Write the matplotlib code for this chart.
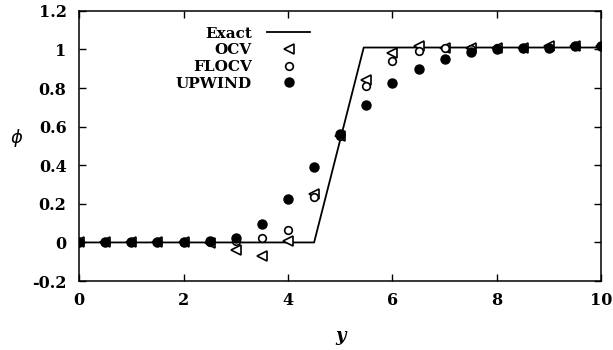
import numpy as np
from matplotlib import pyplot as plt

y_pts = np.arange(0, 10.01, 0.5)

ocv = [0, 0, 0, 0, 0, -0.005, -0.04, -0.07, 0.005, 0.25, 0.55, 0.84,
       0.98, 1.02, 1.01, 1.01, 1.01, 1.01, 1.02, 1.02, 1.02]
flocv = [0, 0, 0, 0, 0, 0, 0.01, 0.025, 0.062, 0.235, 0.55, 0.81,
         0.94, 0.99, 1.01, 1.0, 1.01, 1.01, 1.01, 1.02, 1.02]
upwind = [0, 0, 0, 0, 0, 0.01, 0.025, 0.098, 0.227, 0.39, 0.56, 0.71,
          0.825, 0.9, 0.95, 0.985, 1.0, 1.01, 1.01, 1.02, 1.02]

exact_y = [0, 4.5, 5.45, 10]
exact_phi = [0, 0, 1.01, 1.01]

xticks = [0, 2, 4, 6, 8, 10]
yticks = [-0.2, 0, 0.2, 0.4, 0.6, 0.8, 1, 1.2]
ytick_labels = ["-0.2", "0", "0.2", "0.4", "0.6", "0.8", "1", "1.2"]

plt.rcParams['font.family'] = ['DejaVu Serif']

fig = plt.figure(figsize=(6.13, 3.5), dpi=100)
ax = fig.add_axes([0.129, 0.197, 0.852, 0.772])

ax.plot(exact_y, exact_phi, color="black", linewidth=1.3, label="Exact")
ax.plot(y_pts, ocv, linestyle="none", marker="<", markersize=7,
        markerfacecolor="white", markeredgecolor="black", markeredgewidth=1.2,
        label="OCV")
ax.plot(y_pts, flocv, linestyle="none", marker="o", markersize=5.5,
        markerfacecolor="white", markeredgecolor="black", markeredgewidth=1.2,
        label="FLOCV")
ax.plot(y_pts, upwind, linestyle="none", marker="o", markersize=6.5,
        color="black", label="UPWIND")

ax.set_xlim(0, 10)
ax.set_ylim(-0.2, 1.2)
ax.set_xticks(xticks)
ax.set_xticklabels([str(t) for t in xticks], fontweight="bold", fontsize=11.5)
ax.set_yticks(yticks)
ax.set_yticklabels(ytick_labels, fontweight="bold", fontsize=11.5)
ax.tick_params(direction="in", top=True, right=True, length=5, width=1)
ax.tick_params(axis="x", pad=8)
ax.tick_params(axis="y", pad=9)
for s in ax.spines.values():
    s.set_linewidth(1.1)

ax.set_xlabel("y", fontsize=13, fontstyle="italic", fontweight="bold")
ax.xaxis.set_label_coords(0.5, -0.17)
ax.set_ylabel(r"$\phi$", fontsize=13, rotation=0)
ax.yaxis.set_label_coords(-0.12, 0.49)

leg = ax.legend(loc="upper right", bbox_to_anchor=(0.46, 0.975), frameon=False,
                markerfirst=False, handlelength=2.8, labelspacing=0.17,
                borderaxespad=0.2, handletextpad=1.0,
                prop={"weight": "bold", "size": 11})

fig.savefig("out.png", dpi=100)
